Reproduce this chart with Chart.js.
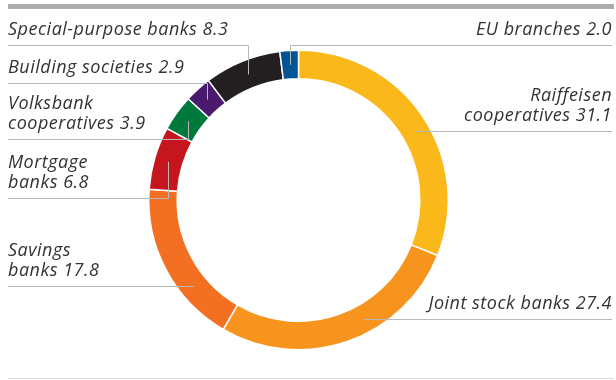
<!DOCTYPE html>
<html>
<head>
<meta charset="utf-8">
<script src="https://cdn.jsdelivr.net/npm/chart.js@4"></script>
<style>
  html, body { margin: 0; padding: 0; background: #fff; }
  #wrap { width: 616px; height: 380px; position: relative; }
</style>
</head>
<body>
<div id="wrap"><canvas id="chart-banks"></canvas></div>
<script>
/* Banking sectors, share in % (clockwise from 12 o'clock) */
var CATEGORIES = [
  ['Raiffeisen', 'cooperatives'],
  ['Joint stock banks'],
  ['Savings', 'banks'],
  ['Mortgage', 'banks'],
  ['Volksbank', 'cooperatives'],
  ['Building societies'],
  ['Special-purpose banks'],
  ['EU branches']
];
var SHARES = [31.1, 27.4, 17.8, 6.8, 3.9, 2.9, 8.3, 2.0];

var SECTOR_COLOURS = ['#FBB81A', '#F7941E', '#F37022', '#C5161D', '#00793D', '#4A1A6C', '#231F20', '#005493'];

/* Where each label sits: side of the chart, y of its underline, and
   whether the leader line bends down/up to the middle of the segment */
var CALLOUTS = [
  { side: 'right', lineY: 131, elbow: false },
  { side: 'right', lineY: 319, elbow: false },
  { side: 'left',  lineY: 286, elbow: false },
  { side: 'left',  lineY: 198, elbow: true },
  { side: 'left',  lineY: 139, elbow: true },
  { side: 'left',  lineY: 83,  elbow: true },
  { side: 'left',  lineY: 45,  elbow: true },
  { side: 'right', lineY: 45,  elbow: true }
];

var LEFT_X = 8;
var RIGHT_X = 612;
var LINE_H = 20;

/* Frame rules plus the labels with their leader lines */
var calloutPlugin = {
  id: 'callouts',
  beforeDraw: function(chart) {
    var c = chart.ctx;
    c.save();
    c.fillStyle = '#ADADAD';
    c.fillRect(LEFT_X, 4, RIGHT_X + 2 - LEFT_X, 5);
    c.fillStyle = '#DEDEDE';
    c.fillRect(LEFT_X, 378, RIGHT_X + 2 - LEFT_X, 1);
    c.restore();
  },
  afterDatasetsDraw: function(chart) {
    var c = chart.ctx;
    var arcs = chart.getDatasetMeta(0).data;
    c.save();
    c.font = 'italic 18px "Open Sans"';
    c.letterSpacing = '0.5px';
    c.textBaseline = 'alphabetic';

    arcs.forEach(function(arc, i) {
      var cfg = CALLOUTS[i];
      var props = arc.getProps(['x', 'y', 'startAngle', 'endAngle', 'innerRadius', 'outerRadius'], true);
      var midR = (props.innerRadius + props.outerRadius) / 2;
      var midA = (props.startAngle + props.endAngle) / 2;
      var px = props.x + Math.cos(midA) * midR;
      var py = props.y + Math.sin(midA) * midR;
      var startX = cfg.side === 'left' ? LEFT_X : RIGHT_X;

      /* leader line */
      c.strokeStyle = '#B8B8B8';
      c.lineWidth = 1;
      c.beginPath();
      c.moveTo(startX, cfg.lineY + 0.5);
      if (cfg.elbow) {
        c.lineTo(Math.round(px) + 0.5, cfg.lineY + 0.5);
        c.lineTo(Math.round(px) + 0.5, py);
      } else {
        var dy = cfg.lineY - props.y;
        var dx = Math.sqrt(Math.max(midR * midR - dy * dy, 0));
        c.lineTo(cfg.side === 'left' ? props.x - dx : props.x + dx, cfg.lineY + 0.5);
      }
      c.stroke();

      /* label text, value on the last line */
      var lines = CATEGORIES[i].slice();
      lines[lines.length - 1] += ' ' + SHARES[i].toFixed(1);
      c.fillStyle = '#333333';
      c.textAlign = cfg.side === 'left' ? 'left' : 'right';
      var base = cfg.lineY - 10 - (lines.length - 1) * LINE_H;
      lines.forEach(function(t, k) {
        c.fillText(t, startX, base + k * LINE_H);
      });
    });
    c.restore();
  }
};

new Chart(document.getElementById('chart-banks'), {
  type: 'doughnut',
  data: {
    labels: CATEGORIES,
    datasets: [{
      data: SHARES,
      backgroundColor: SECTOR_COLOURS,
      borderColor: '#FFFFFF',
      borderWidth: 1.5
    }]
  },
  options: {
    responsive: true,
    maintainAspectRatio: false,
    animation: false,
    cutout: '81%',
    layout: { padding: { top: 49, bottom: 29, left: 148, right: 167 } },
    plugins: {
      legend: { display: false },
      tooltip: { enabled: false }
    }
  },
  plugins: [calloutPlugin]
});
</script>
</body>
</html>
